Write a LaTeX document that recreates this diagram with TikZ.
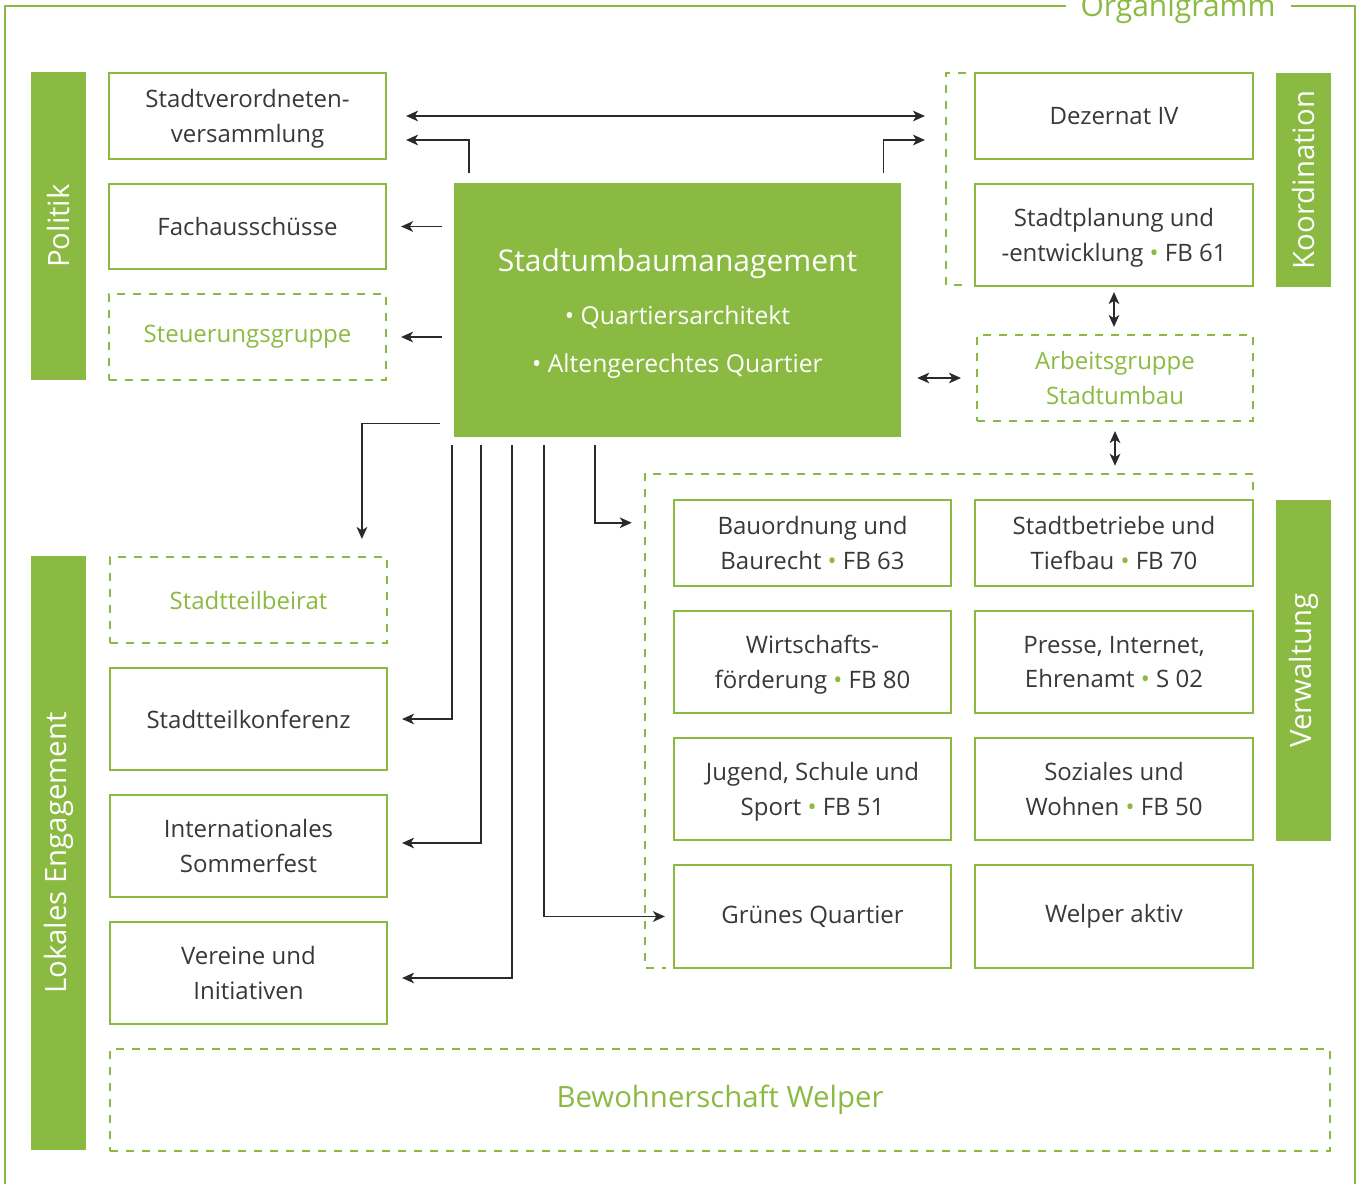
\documentclass[tikz,border=0pt]{standalone}
\usepackage{fontspec}
\setmainfont{Open Sans}
\usetikzlibrary{arrows.meta,calc}
\definecolor{gr}{HTML}{8BBA42}
\definecolor{tx}{HTML}{383838}
\definecolor{ln}{HTML}{2A2A2A}
\newcommand{\gb}{{\color{gr}\textbullet}}
\begin{document}
\begin{tikzpicture}[x=0.75pt,y=-0.75pt,
  >={Stealth[length=9pt,width=8pt,inset=2.5pt]},
  sz/.style 2 args={minimum width=#1*0.75pt, minimum height=#2*0.75pt},
  box/.style={draw=gr, line width=1.6pt, text=tx, font=\fontsize{18}{26}\selectfont, align=center, inner sep=0pt},
  dbox/.style={box, dash pattern=on 6pt off 6pt, text=gr},
  dline/.style={draw=gr, line width=1.6pt, dash pattern=on 6pt off 6pt},
  bar/.style={fill=gr, draw=none, inner sep=0pt, text=white, font=\fontsize{22}{26}\selectfont},
  arrline/.style={draw=ln, line width=1.15pt},
  two/.style={text depth=0pt},
]
\useasboundingbox (0,0) rectangle (1362,1184);
% outer frame
\draw[gr, line width=2pt] (1066,6) -- (5,6) -- (5,1184);
\draw[gr, line width=2pt] (1291,6) -- (1355,6) -- (1355,1184);
\node[anchor=base, text=gr, font=\fontsize{22.5}{27}\selectfont, inner sep=0pt] (ttl) at (1178,17) {Organigramm};

% side bars
\node[bar, rotate=90, sz={308}{55}] (pol) at (58.5,226) {Politik};
\node[bar, rotate=90, sz={594}{55}] (lok) at (58.5,853) {Lokales Engagement};
\node[bar, rotate=90, sz={214}{55}] (koo) at (1303.5,180) {Koordination};
\node[bar, rotate=90, sz={341}{55}] (ver) at (1303.5,670.5) {Verwaltung};

% left column
\node[box, two, sz={277}{86}] (sv) at (247.5,116) {Stadtverordneten-\\versammlung};
\node[box, sz={277}{85}] (fa) at (247.5,226.5) {Fachausschüsse};
\node[dbox, sz={277}{86}] (sg) at (247.5,337) {Steuerungsgruppe};
\node[dbox, sz={277}{86}] (stb) at (248.5,600) {Stadtteilbeirat};
\node[box, sz={277}{102}] (stk) at (248.5,719) {Stadtteilkonferenz};
\node[box, two, sz={277}{102}] (isf) at (248.5,846) {Internationales\\Sommerfest};
\node[box, two, sz={277}{102}] (vi) at (248.5,973) {Vereine und\\Initiativen};
\node[dbox, sz={1220}{102}, font=\fontsize{22}{26}\selectfont] (bw) at (720,1100) {Bewohnerschaft Welper};

% centre
\node[fill=gr, inner sep=0pt, sz={447}{254}] (sum) at (677.5,310) {};
\node[text=white, font=\fontsize{22.5}{27}\selectfont] (sumt) at ($(sum.center)+(0,-46)$) {Stadtumbaumanagement};
\node[text=white, font=\fontsize{18.5}{22}\selectfont] (sumq) at ($(sum.center)+(0,7)$) {\textbullet\ Quartiersarchitekt};
\node[text=white, font=\fontsize{18.5}{22}\selectfont] (suma) at ($(sum.center)+(0,56)$) {\textbullet\ Altengerechtes Quartier};

% right column
\node[box, sz={278}{86}] (dz) at (1114,116) {Dezernat IV};
\node[box, two, sz={278}{102}] (spl) at (1114,235) {Stadtplanung und\\-entwicklung \gb{} FB 61};
\node[dbox, two, sz={276}{86}] (ag) at (1115,378) {Arbeitsgruppe\\Stadtumbau};
\draw[dline] (966,73) -- (946,73) -- (946,285) -- (966,285);

\node[inner sep=0pt, sz={608}{494}] (vg) at (949,721) {};
\draw[dline] ($(vg.north east)+(0,16)$) -- (vg.north east) -- (vg.north west) -- (vg.south west) -- ($(vg.south west)+(21,0)$);

\node[box, two, sz={277}{86}] (bo) at (812.5,543) {Bauordnung und\\Baurecht \gb{} FB 63};
\node[box, two, sz={278}{86}] (sb) at (1114,543) {Stadtbetriebe und\\Tiefbau \gb{} FB 70};
\node[box, two, sz={277}{102}] (wf) at (812.5,662) {Wirtschafts-\\förderung \gb{} FB 80};
\node[box, two, sz={278}{102}] (pie) at (1114,662) {Presse, Internet,\\Ehrenamt \gb{} S 02};
\node[box, two, sz={277}{102}] (jss) at (812.5,789) {Jugend, Schule und\\Sport \gb{} FB 51};
\node[box, two, sz={278}{102}] (sw) at (1114,789) {Soziales und\\Wohnen \gb{} FB 50};
\node[box, sz={277}{103}] (gq) at (812.5,916.5) {Grünes Quartier};
\node[box, sz={278}{103}] (wa) at (1114,916.5) {Welper aktiv};

% connectors
\draw[arrline, <->, shorten <=14.25pt, shorten >=36.75pt] (sv.east) -- (dz.west);
\draw[arrline, ->, shorten <=7.5pt, shorten >=14.25pt] ($(sum.north west)+(15,0)$) |- ($(sv.east)+(0,24)$);
\draw[arrline, ->, shorten <=7.5pt, shorten >=36.75pt] ($(sum.north east)+(-18,0)$) |- ($(dz.west)+(0,24)$);
\draw[arrline, ->, shorten <=9pt, shorten >=10.5pt] (sum.west |- fa) -- (fa.east);
\draw[arrline, ->, shorten <=9pt, shorten >=10.5pt] (sum.west |- sg) -- (sg.east);
\draw[arrline, ->, shorten <=10.5pt, shorten >=12.75pt] ($(sum.south west)+(0,-14)$) -| ($(stb.north west)+(253,0)$);
\draw[arrline, ->, shorten <=6pt, shorten >=10.5pt] ($(sum.south west)+(-2,0)$) |- (stk.east);
\draw[arrline, ->, shorten <=6pt, shorten >=10.5pt] ($(sum.south west)+(27,0)$) |- ($(isf.east)+(0,-3)$);
\draw[arrline, ->, shorten <=6pt, shorten >=10.5pt] ($(sum.south west)+(58,0)$) |- ($(vi.east)+(0,5)$);
\draw[arrline, ->, shorten <=6pt, shorten >=6pt] ($(sum.south west)+(90,0)$) |- (gq.west);
\draw[arrline, ->, shorten <=6pt, shorten >=9.75pt] ($(sum.south west)+(141,0)$) |- ($(vg.north west)+(0,49)$);
\draw[arrline, <->, shorten <=3.75pt, shorten >=5.25pt] (spl.south) -- (spl.south |- ag.north);
\draw[arrline, <->, shorten <=6.75pt, shorten >=6pt] (ag.south) -- (ag.south |- vg.north);
\draw[arrline, <->, shorten <=12pt, shorten >=11.25pt] (sum.east |- ag) -- (ag.west);
\end{tikzpicture}
\end{document}
